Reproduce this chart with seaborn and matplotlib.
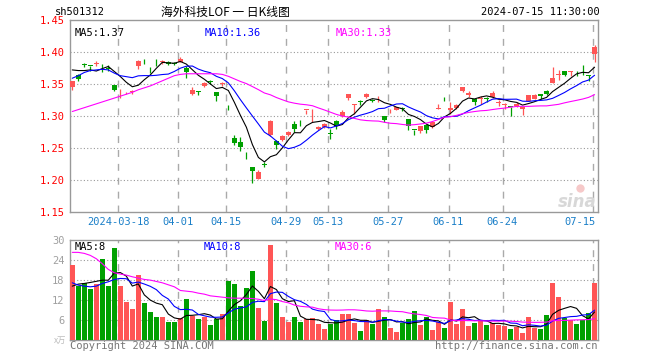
import numpy as np
import pandas as pd
import seaborn as sns
import matplotlib
matplotlib.use("Agg")
import matplotlib.pyplot as plt

# daily K data, 2024-03-06 .. 2024-07-15 (88 trading days)
Open = [1.346, 1.3646, 1.3805, 1.3783, 1.3817, 1.374, 1.375, 1.348, 1.3383, 1.3368,
        1.3378, 1.378, 1.385, 1.3763, 1.3888, 1.3848, 1.384, 1.3823, 1.385, 1.3755,
        1.335, 1.3378, 1.3463, 1.3533, 1.338, 1.3497, 1.3138, 1.266, 1.2598, 1.2388,
        1.2208, 1.202, 1.2237, 1.2698, 1.261, 1.263, 1.2708, 1.288, 1.2919, 1.3091,
        1.2934, 1.279, 1.2833, 1.2721, 1.2927, 1.3005, 1.3276, 1.3167, 1.3227, 1.3297,
        1.3243, 1.3278, 1.3005, 1.309, 1.3099, 1.3113, 1.2958, 1.2784, 1.277, 1.2859,
        1.2828, 1.3111, 1.3294, 1.3099, 1.3125, 1.3385, 1.3328, 1.326, 1.3268, 1.3268,
        1.3297, 1.32, 1.3174, 1.3143, 1.3151, 1.3109, 1.3239, 1.327, 1.3349, 1.3396,
        1.3521, 1.3648, 1.3698, 1.3682, 1.3701, 1.3716, 1.3646, 1.3974]
High = [1.355, 1.366, 1.383, 1.3783, 1.386, 1.381, 1.379, 1.349, 1.342, 1.337,
        1.341, 1.388, 1.389, 1.3763, 1.3888, 1.387, 1.386, 1.385, 1.392, 1.378,
        1.345, 1.3396, 1.3526, 1.3567, 1.338, 1.3526, 1.3177, 1.2697, 1.267, 1.243,
        1.2208, 1.216, 1.2275, 1.2942, 1.262, 1.2708, 1.276, 1.2916, 1.2937, 1.3094,
        1.3114, 1.2838, 1.2895, 1.2797, 1.2942, 1.3088, 1.3349, 1.3193, 1.3255, 1.336,
        1.3265, 1.3317, 1.3005, 1.3114, 1.3145, 1.3135, 1.2958, 1.2784, 1.2849, 1.2859,
        1.2921, 1.3182, 1.3294, 1.3224, 1.3182, 1.3458, 1.3385, 1.326, 1.3317, 1.3297,
        1.3385, 1.3245, 1.3203, 1.3143, 1.3213, 1.314, 1.3333, 1.3349, 1.3349, 1.3411,
        1.3771, 1.3713, 1.3698, 1.3703, 1.3701, 1.3802, 1.3646, 1.4115]
Low = [1.340, 1.355, 1.376, 1.371, 1.378, 1.369, 1.370, 1.339, 1.328, 1.334,
       1.335, 1.374, 1.381, 1.367, 1.378, 1.381, 1.379, 1.379, 1.384, 1.360,
       1.333, 1.333, 1.3448, 1.3495, 1.323, 1.3469, 1.309, 1.255, 1.2458, 1.2333,
       1.1952, 1.201, 1.2197, 1.2692, 1.249, 1.2614, 1.269, 1.275, 1.2843, 1.3036,
       1.2906, 1.2776, 1.2817, 1.264, 1.2802, 1.2984, 1.3255, 1.3036, 1.3177, 1.3276,
       1.3213, 1.3213, 1.2911, 1.3047, 1.3088, 1.3073, 1.2776, 1.2697, 1.2739, 1.2729,
       1.2807, 1.3111, 1.3229, 1.3036, 1.311, 1.337, 1.3297, 1.3166, 1.3192, 1.3224,
       1.3281, 1.3161, 1.3114, 1.3005, 1.3135, 1.302, 1.3229, 1.326, 1.327, 1.3323,
       1.351, 1.3557, 1.3625, 1.363, 1.362, 1.3646, 1.3547, 1.3839]
Close = [1.354, 1.3573, 1.380, 1.378, 1.382, 1.373, 1.374, 1.341, 1.3385, 1.337,
         1.338, 1.386, 1.384, 1.376, 1.3885, 1.385, 1.381, 1.382, 1.3895, 1.368,
         1.341, 1.3375, 1.351, 1.353, 1.3318, 1.350, 1.3135, 1.2583, 1.252, 1.2385,
         1.2145, 1.213, 1.2234, 1.2927, 1.254, 1.268, 1.2755, 1.2797, 1.2916, 1.3094,
         1.2937, 1.2822, 1.288, 1.2718, 1.2849, 1.3067, 1.3349, 1.3193, 1.3224, 1.3349,
         1.324, 1.3281, 1.2942, 1.3093, 1.3135, 1.311, 1.2843, 1.2781, 1.2849, 1.2776,
         1.29, 1.3114, 1.3291, 1.3125, 1.3172, 1.3458, 1.3359, 1.3218, 1.3271, 1.3265,
         1.3354, 1.3203, 1.3177, 1.314, 1.3192, 1.314, 1.3323, 1.3323, 1.3317, 1.3349,
         1.3594, 1.3651, 1.3646, 1.3703, 1.3698, 1.3713, 1.362, 1.4078]
# volume in 万手
Volume = [22.6, 16.3, 17.1, 15.4, 16.8, 24.3, 16.3, 27.6, 16.3, 11.5,
          9.4, 19.5, 11.2, 8.5, 7.0, 7.0, 5.5, 5.5, 6.7, 12.4,
          7.3, 6.4, 7.0, 4.6, 6.4, 7.9, 17.7, 16.8, 10.3, 15.7,
          20.7, 9.7, 5.8, 28.5, 11.2, 7.0, 5.5, 7.0, 5.5, 6.4,
          6.7, 4.9, 3.4, 4.9, 6.1, 7.9, 7.9, 5.2, 2.8, 6.1,
          4.9, 9.4, 7.0, 3.7, 2.5, 5.2, 6.4, 8.8, 4.6, 7.0,
          3.1, 5.5, 3.7, 11.5, 4.9, 9.4, 4.3, 5.2, 5.8, 4.6,
          5.2, 4.6, 4.3, 3.4, 4.0, 2.2, 7.0, 3.7, 3.4, 7.6,
          17.1, 13.0, 6.7, 6.1, 4.9, 6.1, 8.2, 17.1]

# moving-average values before enough history is inside the window
ma5_head = [1.372, 1.371, 1.371, 1.372]
ma10_head = [1.359, 1.363, 1.368, 1.371, 1.372, 1.373, 1.372, 1.367, 1.363]
ma30_head = [1.307, 1.310, 1.313, 1.316, 1.319, 1.322, 1.325, 1.328, 1.331, 1.334,
             1.337, 1.341, 1.344, 1.347, 1.351, 1.355, 1.359, 1.363, 1.365, 1.366,
             1.366, 1.366, 1.366, 1.366, 1.366, 1.365, 1.362, 1.358, 1.354]
vma5_head = [16.2, 16.8, 17.0, 17.3]
vma10_head = [17.2, 16.5, 16.2, 16.0, 16.2, 17.0, 17.5, 18.2, 18.5]
vma30_head = [26.3, 26.3, 26.0, 25.4, 24.4, 22.9, 21.2, 20.2, 19.8, 19.5,
              19.0, 18.6, 18.2, 18.0, 17.6, 17.2, 16.6, 16.0, 14.9, 14.7,
              14.5, 14.1, 13.8, 13.3, 13.1, 12.9, 12.7, 12.6, 12.6]

tick_pos = [8, 18, 26, 36, 43, 53, 63, 72, 87]
tick_labels = ["2024-03-18", "04-01", "04-15", "04-29", "05-13", "05-27", "06-11", "06-24", "07-15"]
price_ticks = [1.45, 1.40, 1.35, 1.30, 1.25, 1.20, 1.15]
vol_ticks = [6, 12, 18, 24, 30]

RED = "#ff5555"
GREEN = "#00a000"
GRID = "#999999"
MONO = "DejaVu Sans Mono"
CJK = ["Noto Sans CJK SC", "DejaVu Sans"]

df = pd.DataFrame({"open": Open, "high": High, "low": Low, "close": Close, "vol": Volume})
df["x"] = np.arange(len(df))
df["up"] = df["close"] >= df["open"]


def ma(series, n, head):
    m = series.rolling(n).mean()
    m.iloc[:n - 1] = head
    return m


df["ma5"] = ma(df["close"], 5, ma5_head)
df["ma10"] = ma(df["close"], 10, ma10_head)
df["ma30"] = ma(df["close"], 30, ma30_head)
df["vma5"] = ma(df["vol"], 5, vma5_head)
df["vma10"] = ma(df["vol"], 10, vma10_head)
df["vma30"] = ma(df["vol"], 30, vma30_head)

sns.set_theme(style="white")
plt.rcParams["font.family"] = [MONO]

fig = plt.figure(figsize=(6.6, 3.6), dpi=100)
W, H = 660.0, 360.0
ax = fig.add_axes([70 / W, 1 - 212 / H, 528 / W, 192 / H])
axv = fig.add_axes([70 / W, 1 - 340.3 / H, 528 / W, 100.3 / H])

xl = (-0.38, 87.57)
colors = np.where(df["up"], RED, GREEN)

# candles
body = (df["close"] - df["open"]).abs().clip(lower=0.0011)
bottom = df[["open", "close"]].min(axis=1)
ax.vlines(df["x"], df["low"], df["high"], colors=colors, lw=0.9, zorder=3)
ax.bar(df["x"], body, bottom=bottom, width=0.8, color=colors, lw=0, zorder=4)

for col, c in [("ma5", "black"), ("ma10", "#0000ff"), ("ma30", "#ff00ff")]:
    sns.lineplot(data=df, x="x", y=col, color=c, lw=0.8, ax=ax, zorder=5)

# volume
axv.bar(df["x"], df["vol"], width=0.83, color=colors, lw=0, zorder=3)
for col, c in [("vma5", "black"), ("vma10", "#0000ff"), ("vma30", "#ff00ff")]:
    sns.lineplot(data=df, x="x", y=col, color=c, lw=0.8, ax=axv, zorder=5)

for a in (ax, axv):
    a.set_xlim(*xl)
    a.set_xlabel("")
    a.set_ylabel("")
    a.set_xticks([])
    for p in tick_pos:
        a.axvline(p - 0.33, color="#aaaaaa", lw=1, ls=(0, (5, 5)), zorder=1)
    for s in a.spines.values():
        s.set_color(GRID)
        s.set_linewidth(1)
    a.tick_params(axis="y", length=0, pad=4)

ax.set_ylim(1.15, 1.45)
ax.set_yticks(price_ticks)
ax.set_yticklabels([f"{v:.2f}" for v in price_ticks], color="red", fontsize=7.5)
for v in price_ticks[1:-1]:
    ax.axhline(v, color=GRID, lw=0.8, ls=(0, (1, 2)), zorder=1)

axv.set_ylim(0, 30)
axv.set_yticks(vol_ticks)
axv.set_yticklabels([str(v) for v in vol_ticks], color="#a0a0a0", fontsize=7.5)
for v in vol_ticks[:-1]:
    axv.axhline(v, color=GRID, lw=0.8, ls=(0, (1, 2)), zorder=1)

# date labels
for p, t in zip(tick_pos, tick_labels):
    px = (72.3 + 6 * p - 2) / W
    ha = "center"
    if t == "07-15":
        px = 596 / W
        ha = "right"
    fig.text(px, 1 - 222 / H, t, ha=ha, va="center", color="#1a7fc8", fontsize=7.5)

# header
fig.text(55 / W, 1 - 12 / H, "sh501312", ha="left", va="center", fontsize=7.5, color="black")
fig.text(225 / W, 1 - 12 / H, "海外科技LOF 一 日K线图", ha="center", va="center",
         fontsize=8.5, family=CJK, color="black")
fig.text(600 / W, 1 - 12 / H, "2024-07-15 11:30:00", ha="right", va="center", fontsize=7.5, color="black")

# MA legends
fig.text(75 / W, 1 - 33 / H, "MA5:1.37", ha="left", va="center", fontsize=7.5, color="black")
fig.text(205 / W, 1 - 33 / H, "MA10:1.36", ha="left", va="center", fontsize=7.5, color="#0000ff")
fig.text(336 / W, 1 - 33 / H, "MA30:1.33", ha="left", va="center", fontsize=7.5, color="#ff00ff")
fig.text(75 / W, 1 - 247 / H, "MA5:8", ha="left", va="center", fontsize=7.5, color="black")
fig.text(204 / W, 1 - 247 / H, "MA10:8", ha="left", va="center", fontsize=7.5, color="#0000ff")
fig.text(335 / W, 1 - 247 / H, "MA30:6", ha="left", va="center", fontsize=7.5, color="#ff00ff")

fig.text(66 / W, 1 - 340 / H, "x万", ha="right", va="center", fontsize=6, family=CJK, color="#bbbbbb")
fig.text(70 / W, 1 - 346 / H, "Copyright 2024 SINA.COM", ha="left", va="center", fontsize=7.5, color="#777777")
fig.text(597 / W, 1 - 346 / H, "http://finance.sina.com.cn", ha="right", va="center", fontsize=7.5, color="#777777")

# sina watermark
fig.text(597 / W, 1 - 202 / H, "sina", ha="right", va="center", fontsize=12, fontweight="bold",
         style="italic", family="DejaVu Sans", color="#d8d8d8", zorder=0)
ax.plot([580 / W], [1 - 188 / H], "o", ms=6, color="#f6c9c9", mew=0,
        transform=fig.transFigure, clip_on=False, zorder=0)

fig.savefig("out.png", dpi=100)
